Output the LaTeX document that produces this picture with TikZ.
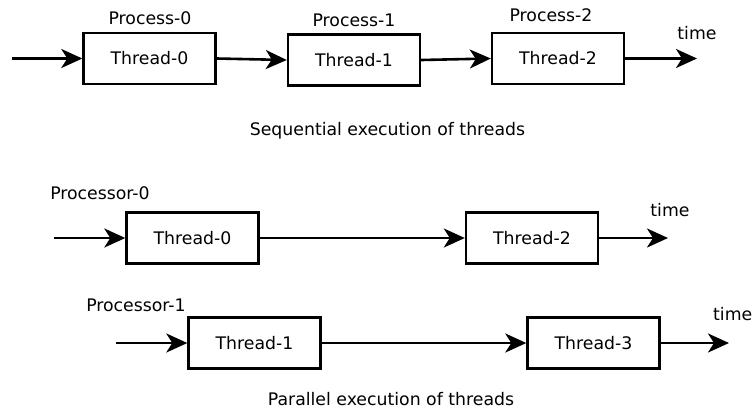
\documentclass[tikz,border=0pt]{standalone}
\usepackage{fontspec}
\setmainfont{DejaVu Sans}
\usetikzlibrary{arrows.meta}
\begin{document}
\begin{tikzpicture}[x=1pt,y=-1pt,
  every node/.style={font=\fontsize{17.3}{20}\selectfont, inner sep=0pt},
  lbl/.style={anchor=base},
  tbox/.style={draw, line width=2.4pt, minimum width=132pt, minimum height=51pt},
  conn/.style={line width=2.6pt, -{Stealth[length=21pt,width=19pt,inset=6pt]}}]
\useasboundingbox (0,0) rectangle (752,408);
% sequential
\node[tbox] (s0) at (149.5,58.5) {Thread-0};
\node[tbox] (s1) at (354,60) {Thread-1};
\node[tbox] (s2) at (558,58.5) {Thread-2};
\node[lbl] (p0) at (150,24) {Process-0};
\node[lbl] (p1) at (354,26) {Process-1};
\node[lbl] (p2) at (551,21) {Process-2};
\node[lbl] (tm0) at (697,39) {time};
\coordinate (sin) at (12,58.5);
\coordinate (sout) at (697,58.5);
\draw[conn] (sin) -- (s0.west);
\draw[conn] (s0.east) -- (s1.west);
\draw[conn] (s1.east) -- (s2.west);
\draw[conn] (s2.east) -- (sout);
\node[lbl] (seq) at (387.5,135) {Sequential execution of threads};
% parallel
\node[lbl] (pr0) at (100,199) {Processor-0};
\node[tbox] (a0) at (192.5,238) {Thread-0};
\node[tbox] (a2) at (532,238) {Thread-2};
\node[lbl] (tm1) at (670,216) {time};
\coordinate (ain) at (54,238);
\coordinate (aout) at (668,238);
\draw[conn] (ain) -- (a0.west);
\draw[conn] (a0.east) -- (a2.west);
\draw[conn] (a2.east) -- (aout);
\node[lbl] (pr1) at (136,311) {Processor-1};
\node[tbox] (b1) at (254.5,343) {Thread-1};
\node[tbox] (b3) at (593.5,343) {Thread-3};
\node[anchor=base west] (tm2) at (713,320) {time};
\coordinate (bin) at (116,343);
\coordinate (bout) at (729,343);
\draw[conn] (bin) -- (b1.west);
\draw[conn] (b1.east) -- (b3.west);
\draw[conn] (b3.east) -- (bout);
\node[lbl] (par) at (391,405) {Parallel execution of threads};
\end{tikzpicture}
\end{document}
